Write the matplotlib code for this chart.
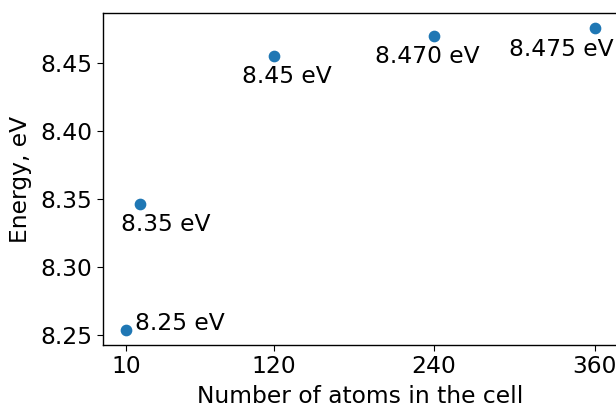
import matplotlib
matplotlib.use("Agg")
import matplotlib.pyplot as plt

# data
atoms = [10, 20, 120, 240, 360]
energy = [8.2537, 8.3467, 8.4549, 8.4703, 8.4758]
labels = ["8.25 eV", "8.35 eV", "8.45 eV", "8.470 eV", "8.475 eV"]
# label offsets from each point, in pixels (dx, dy)
offsets = [(9, 0), (-19, -27), (-32, -27), (-59, -27), (-86, -28)]
xticks = [10, 120, 240, 360]

plt.rcParams['font.size'] = 16.8
plt.rcParams['axes.linewidth'] = 1.0
plt.rcParams['xtick.major.size'] = 4
plt.rcParams['ytick.major.size'] = 4

fig = plt.figure(figsize=(6.16, 4.04), dpi=100)
ax = fig.add_axes([103 / 616, 59 / 404, 515 / 616, 332 / 404])

ax.scatter(atoms, energy, color="#1f77b4", s=55, zorder=3)
for x, y, lab, off in zip(atoms, energy, labels, offsets):
    ax.annotate(lab, (x, y), xytext=off, textcoords="offset pixels",
                ha="left", va="baseline")

ax.set_xticks(xticks)
ax.set_yticks([8.25, 8.30, 8.35, 8.40, 8.45])
ax.set_xlabel("Number of atoms in the cell", labelpad=5)
ax.set_ylabel("Energy, eV", labelpad=6)

fig.savefig("out.png", dpi=100)
